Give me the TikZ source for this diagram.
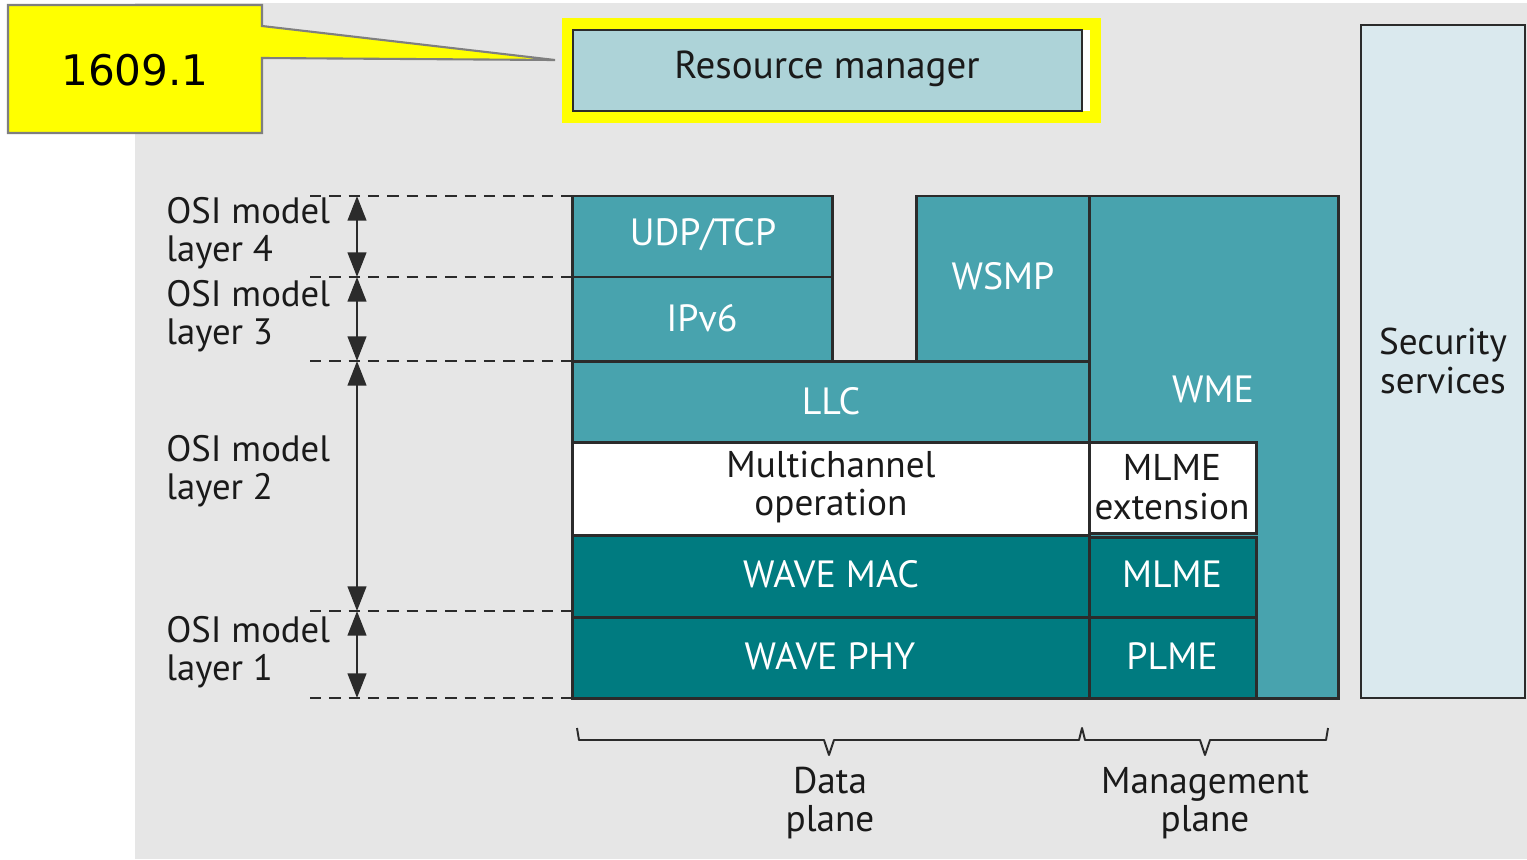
\documentclass[tikz,border=0pt]{standalone}
\usepackage{fontspec}
\setmainfont{PT Sans}
\newfontfamily\calloutfont{DejaVu Sans}
\usetikzlibrary{arrows.meta}
\definecolor{bggray}{HTML}{E6E6E6}
\definecolor{midteal}{HTML}{48A3AE}
\definecolor{darkteal}{HTML}{007B80}
\definecolor{rmblue}{HTML}{ADD3D8}
\definecolor{secblue}{HTML}{DAE9EE}
\definecolor{edgec}{HTML}{2B2B2B}
\definecolor{calloutedge}{HTML}{7F7F7F}
\definecolor{txtdark}{HTML}{1A1A1A}
\definecolor{hlyellow}{HTML}{FFFF00}
\begin{document}
\begin{tikzpicture}[x=0.02cm,y=-0.02cm,
  block/.style={draw=edgec,line width=1.7pt},
  wtxt/.style={text=white,font=\fontsize{21.6}{22}\selectfont,align=center,inner sep=0pt},
  ktxt/.style={text=txtdark,font=\fontsize{21.2}{22}\selectfont,align=center,inner sep=0pt},
  osilbl/.style={text=txtdark,font=\fontsize{20.9}{21.5}\selectfont,align=left,anchor=west,inner sep=0pt},
  guide/.style={draw=edgec,line width=1.5pt,dash pattern=on 6.5pt off 4.5pt},
  span/.style={draw=edgec,line width=1.6pt,{Triangle[length=14pt,width=10.5pt]}-{Triangle[length=14pt,width=10.5pt]}},
  brace/.style={draw=edgec,line width=1.1pt,line join=round}]

\useasboundingbox (0,0) rectangle (1527,859);
\fill[bggray] (135,3) rectangle (1527,859);

% callout
\filldraw[fill=hlyellow,draw=calloutedge,line width=1.2pt]
  (8,5) -- (262,5) -- (262,26) -- (555,60) -- (262,58) -- (262,133) -- (8,133) -- cycle;
\node[font=\calloutfont\fontsize{24}{25}\selectfont,text=black] (callout) at (135,70) {1609.1};

% resource manager
\fill[hlyellow] (562,18) rectangle (1101,123);
\fill[white] (1083,30) rectangle (1090,111);
\filldraw[fill=rmblue,draw=edgec,line width=0.8pt] (573,30) rectangle (1082,111);
\node[ktxt,font=\fontsize{22.2}{23}\selectfont] (rm) at (827,69) {Resource manager};

% security services
\filldraw[fill=secblue,draw=edgec,line width=1.4pt] (1361,25) rectangle (1525,698);
\node[ktxt] (sec) at (1443,361) {Security\\services};

% guides
\foreach \n/\yy in {g4/196,g3/277,g2/361,g1/611,g0/698}{
  \coordinate (\n l) at (310,\yy);
  \coordinate (\n r) at (572,\yy);
  \coordinate (\n) at (357,\yy);
  \draw[guide] (\n l) -- (\n r);
}
\draw[span] (g4) -- (g3);
\draw[span] (g3) -- (g2);
\draw[span] (g2) -- (g1);
\draw[span] (g1) -- (g0);

\node[osilbl] (l4) at (166,233) {OSI model\\layer 4};
\node[osilbl] (l3) at (166,316) {OSI model\\layer 3};
\node[osilbl] (l2) at (166,471) {OSI model\\layer 2};
\node[osilbl] (l1) at (166,652) {OSI model\\layer 1};

% blocks
\filldraw[block,fill=midteal] (1089,196) rectangle (1338,698);
\filldraw[block,fill=midteal] (572,196) rectangle (832,277);
\filldraw[block,fill=midteal] (572,277) rectangle (832,361);
\filldraw[block,fill=midteal] (916,196) rectangle (1089,361);
\filldraw[block,fill=midteal] (572,361) rectangle (1089,442);
\filldraw[block,fill=white] (572,442) rectangle (1089,535);
\filldraw[block,fill=darkteal] (572,535) rectangle (1089,617);
\filldraw[block,fill=darkteal] (572,617) rectangle (1089,698);
\filldraw[block,fill=white] (1089,442) rectangle (1256,533);
\filldraw[block,fill=darkteal] (1089,537) rectangle (1256,617);
\filldraw[block,fill=darkteal] (1089,617) rectangle (1256,698);

\node[wtxt] (udp) at (703,235) {UDP/TCP};
\node[wtxt] (ipv6) at (702,318) {IPv6};
\node[wtxt] (wsmp) at (1003,276) {WSMP};
\node[wtxt] (llc) at (831,401) {LLC};
\node[ktxt] (mco) at (831,487) {Multichannel\\operation};
\node[wtxt] (wmac) at (831,574) {WAVE MAC};
\node[wtxt] (wphy) at (830,656) {WAVE PHY};
\node[wtxt] (wme) at (1213,389) {WME};
\node[ktxt] (mlmex) at (1172,487) {MLME\\extension};
\node[wtxt] (mlme) at (1172,574) {MLME};
\node[wtxt] (plme) at (1172,656) {PLME};

% braces
\draw[brace] (577,728) -- (579,740) -- (824,740) -- (829,755) -- (834,740) -- (1079,740) -- (1082,728)
  -- (1085,740) -- (1200,740) -- (1205,755) -- (1210,740) -- (1326,740) -- (1328,728);
\node[ktxt] (dp) at (830,803) {Data\\plane};
\node[ktxt] (mp) at (1205,803) {Management\\plane};
\end{tikzpicture}
\end{document}
